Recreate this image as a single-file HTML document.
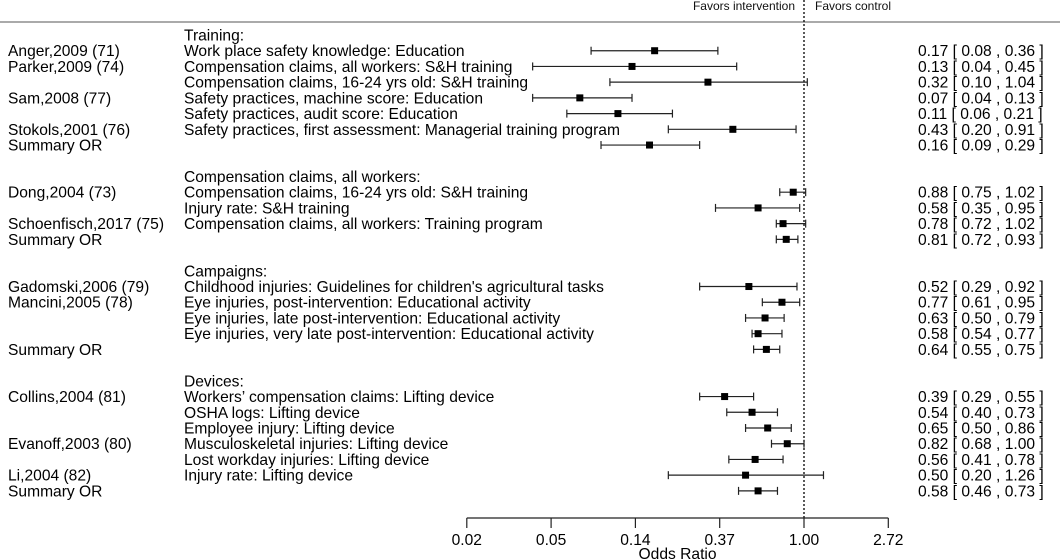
<!DOCTYPE html>
<html><head><meta charset="utf-8"><style>
html,body{margin:0;padding:0;background:#fff;}
svg{display:block;font-family:"Liberation Sans",Arial,sans-serif;}
</style></head><body>
<svg id="chart" width="1060" height="560" viewBox="0 0 1060 560" xmlns="http://www.w3.org/2000/svg">
<line x1="0" y1="22" x2="1060" y2="22" stroke="#777" stroke-width="1.2"/>
<text x="795" y="10" font-size="12" text-anchor="end" fill="#111">Favors intervention</text>
<text x="815" y="10" font-size="12" fill="#111">Favors control</text>
<g id="rows"></g>
<g id="axis"></g>
</svg>
<script>
const rowIdx = [0,1,2,3,4,5,6,7, 9,10,11,12,13, 15,16,17,18,19,20, 22,23,24,25,26,27,28,29];
const studies = ["","Anger,2009 (71)","Parker,2009 (74)","","Sam,2008 (77)","","Stokols,2001 (76)","Summary OR",
"","Dong,2004 (73)","","Schoenfisch,2017 (75)","Summary OR",
"","Gadomski,2006 (79)","Mancini,2005 (78)","","","Summary OR",
"","Collins,2004 (81)","","","Evanoff,2003 (80)","","Li,2004 (82)","Summary OR"];
const outcomes = ["Training:","Work place safety knowledge: Education","Compensation claims, all workers: S&H training","Compensation claims, 16-24 yrs old: S&H training","Safety practices, machine score: Education","Safety practices, audit score: Education","Safety practices, first assessment: Managerial training program","",
"Compensation claims, all workers:","Compensation claims, 16-24 yrs old: S&H training","Injury rate: S&H training","Compensation claims, all workers: Training program","",
"Campaigns:","Childhood injuries: Guidelines for children's agricultural tasks","Eye injuries, post-intervention: Educational activity","Eye injuries, late post-intervention: Educational activity","Eye injuries, very late post-intervention: Educational activity","",
"Devices:","Workers’ compensation claims: Lifting device","OSHA logs: Lifting device","Employee injury: Lifting device","Musculoskeletal injuries: Lifting device","Lost workday injuries: Lifting device","Injury rate: Lifting device",""];
const est = [null,0.17,0.13,0.32,0.07,0.11,0.43,0.16, null,0.88,0.58,0.78,0.81, null,0.52,0.77,0.63,0.58,0.64, null,0.39,0.54,0.65,0.82,0.56,0.50,0.58];
const lower = [null,0.08,0.04,0.10,0.04,0.06,0.20,0.09, null,0.75,0.35,0.72,0.72, null,0.29,0.61,0.50,0.54,0.55, null,0.29,0.40,0.50,0.68,0.41,0.20,0.46];
const upper = [null,0.36,0.45,1.04,0.13,0.21,0.91,0.29, null,1.02,0.95,1.02,0.93, null,0.92,0.95,0.79,0.77,0.75, null,0.55,0.73,0.86,1.00,0.78,1.26,0.73];
const tickVals = [Math.exp(-4),Math.exp(-3),Math.exp(-2),Math.exp(-1),1,Math.exp(1)];
const tickLabels = ["0.02","0.05","0.14","0.37","1.00","2.72"];

const NS="http://www.w3.org/2000/svg";
const X0=804, K=84.3, FS=15.6;
function xs(v){return X0+K*Math.log(v);}
function ys(i){return 35+15.72*i;}
function mk(tag,attrs,parent){const e=document.createElementNS(NS,tag);for(const k in attrs)e.setAttribute(k,attrs[k]);parent.appendChild(e);return e;}
const rows=document.getElementById('rows');
const axis=document.getElementById('axis');
const f2=v=>v.toFixed(2);

const ref=mk('line',{x1:xs(1),y1:0,x2:xs(1),y2:518,stroke:'#000','stroke-width':1.3,'stroke-dasharray':'2,2'},rows);



for(let j=0;j<rowIdx.length;j++){
  const y=ys(rowIdx[j]);
  if(studies[j]){
    const t=mk('text',{x:8,y:y+5.5,'font-size':FS,fill:'#000'},rows);t.textContent=studies[j];
    
    
  }
  if(outcomes[j]){
    const t=mk('text',{x:184,y:y+5.5,'font-size':FS,fill:'#000'},rows);t.textContent=outcomes[j];
    
    
  }
  if(est[j]!==null){
    const x1=xs(lower[j]),x2=xs(upper[j]),xm=xs(est[j]);
    const g=mk('g',{},rows);
    
    
    mk('line',{x1:x1,y1:y,x2:x2,y2:y,stroke:'#222','stroke-width':1.2},g);
    mk('line',{x1:x1,y1:y-4,x2:x1,y2:y+4,stroke:'#222','stroke-width':1.2},g);
    mk('line',{x1:x2,y1:y-4,x2:x2,y2:y+4,stroke:'#222','stroke-width':1.2},g);
    const sq=mk('rect',{x:xm-3.5,y:y-3.5,width:7,height:7,fill:'#000'},g);
    
    
    const t=mk('text',{x:918,y:y+5.5,'font-size':FS,fill:'#000','xml:space':'preserve'},rows);
    t.style.whiteSpace='pre';
    t.textContent=f2(est[j])+" [ "+f2(lower[j])+" , "+f2(upper[j])+" ]";
    
    
  }
}
const al=mk('line',{x1:xs(tickVals[0]),y1:518,x2:xs(tickVals[5]),y2:518,stroke:'#222','stroke-width':1.2},axis);


for(let i=0;i<tickVals.length;i++){
  const x=xs(tickVals[i]);
  const tk=mk('line',{x1:x,y1:518,x2:x,y2:528,stroke:'#222','stroke-width':1.2},axis);
  
  
  const t=mk('text',{x:x,y:545,'font-size':FS,'text-anchor':'middle',fill:'#000'},axis);t.textContent=tickLabels[i];
  
  
}
const xt=mk('text',{x:(xs(tickVals[2])+xs(tickVals[3]))/2,y:559,'font-size':FS,'text-anchor':'middle',fill:'#000'},axis);
xt.textContent="Odds Ratio";


</script>
</body></html>
